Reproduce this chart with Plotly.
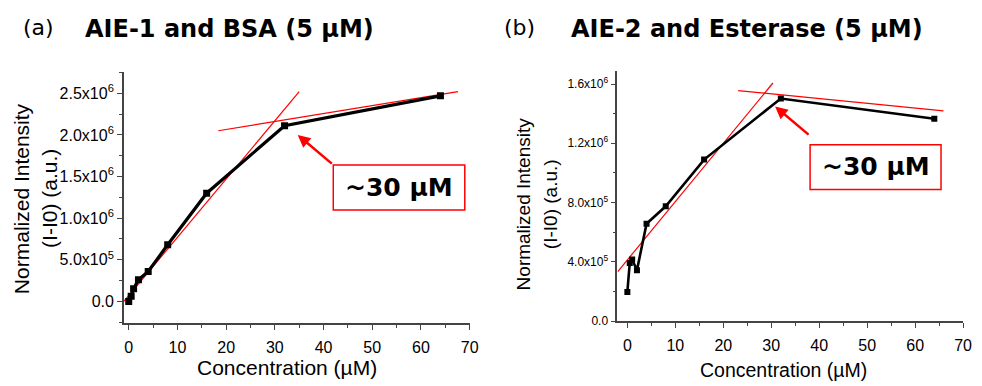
import plotly.graph_objects as go

# ---- data ----
conc = [0, 0.5, 1, 2, 4, 8, 16, 32, 64]
bsa_intensity = [0.0, 6.3e4, 1.53e5, 2.6e5, 3.6e5, 6.8e5, 1.30e6, 2.11e6, 2.47e6]
est_intensity = [1.97e5, 3.92e5, 4.16e5, 3.43e5, 6.57e5, 7.75e5, 1.09e6, 1.502e6, 1.366e6]

fit_a_steep_x = [-1.0, 35.0]
fit_a_steep_y = [0.0, 2.52e6]
fit_a_flat_x = [18.4, 67.6]
fit_a_flat_y = [2.05e6, 2.52e6]

fit_b_steep_x = [-2.0, 30.35]
fit_b_steep_y = [3.34e5, 1.607e6]
fit_b_flat_x = [23.1, 65.9]
fit_b_flat_y = [1.556e6, 1.419e6]

a_ytick_vals = [0, 5e5, 1e6, 1.5e6, 2e6, 2.5e6]
a_ytick_text = ["0.0", "5.0x10<sup>5</sup>", "1.0x10<sup>6</sup>", "1.5x10<sup>6</sup>",
                "2.0x10<sup>6</sup>", "2.5x10<sup>6</sup>"]
b_ytick_vals = [0, 4e5, 8e5, 1.2e6, 1.6e6]
b_ytick_text = ["0.0", "4.0x10<sup>5</sup>", "8.0x10<sup>5</sup>", "1.2x10<sup>6</sup>",
                "1.6x10<sup>6</sup>"]
xtick_vals = [0, 10, 20, 30, 40, 50, 60, 70]

W, H = 982, 386
TICKF = "Liberation Sans, Arial, sans-serif"
TITLEF = "DejaVu Sans, sans-serif"

fig = go.Figure()

# panel a
fig.add_trace(go.Scatter(x=fit_a_steep_x, y=fit_a_steep_y, mode="lines",
                         line=dict(color="red", width=1.2), xaxis="x", yaxis="y"))
fig.add_trace(go.Scatter(x=fit_a_flat_x, y=fit_a_flat_y, mode="lines",
                         line=dict(color="red", width=1.2), xaxis="x", yaxis="y"))
fig.add_trace(go.Scatter(x=conc, y=bsa_intensity, mode="lines+markers",
                         line=dict(color="black", width=3.2),
                         marker=dict(symbol="square", size=7, color="black"),
                         xaxis="x", yaxis="y"))
# panel b
fig.add_trace(go.Scatter(x=fit_b_steep_x, y=fit_b_steep_y, mode="lines",
                         line=dict(color="red", width=1.2), xaxis="x2", yaxis="y2"))
fig.add_trace(go.Scatter(x=fit_b_flat_x, y=fit_b_flat_y, mode="lines",
                         line=dict(color="red", width=1.2), xaxis="x2", yaxis="y2"))
fig.add_trace(go.Scatter(x=conc, y=est_intensity, mode="lines+markers",
                         line=dict(color="black", width=2.6),
                         marker=dict(symbol="square", size=6, color="black"),
                         xaxis="x2", yaxis="y2"))

axis_common = dict(showline=True, linecolor="#444", linewidth=1.5, ticks="outside",
                   tickcolor="#444", ticklen=5, tickwidth=1.2, showgrid=False,
                   zeroline=False, mirror=False)

minor_x = dict(dtick=5, ticks="outside", ticklen=3, tickcolor="#444", showgrid=False)

fig.update_layout(
    width=W, height=H, margin=dict(l=0, r=0, t=0, b=0),
    paper_bgcolor="white", plot_bgcolor="white", showlegend=False,
    xaxis=dict(domain=[125 / W, 474 / W], range=[-1.0, 70], tickvals=xtick_vals,
               tickfont=dict(family=TICKF, size=16, color="black"), anchor="y",
               ticklabelstandoff=4, minor=minor_x, **axis_common),
    yaxis=dict(domain=[(H - 329) / H, (H - 73) / H], range=[-2.6e5, 2.76e6],
               tickvals=a_ytick_vals, ticktext=a_ytick_text,
               tickfont=dict(family=TICKF, size=16, color="black"), anchor="x",
               minor=dict(dtick=2.5e5, tick0=0, ticks="outside", ticklen=3, tickcolor="#444"),
               **axis_common),
    xaxis2=dict(domain=[623 / W, 972 / W], range=[-2.1, 70], tickvals=xtick_vals,
                tickfont=dict(family=TICKF, size=16, color="black"), anchor="y2",
                ticklabelstandoff=4, minor=minor_x, **axis_common),
    yaxis2=dict(domain=[(H - 327) / H, (H - 72) / H], range=[0, 1.69e6],
                tickvals=b_ytick_vals, ticktext=b_ytick_text,
                tickfont=dict(family=TICKF, size=12, color="black"), anchor="x2",
                minor=dict(dtick=2e5, tick0=0, ticks="outside", ticklen=3, tickcolor="#444"),
                **axis_common),
)

ann = []
def ptext(x, y, text, size, family=TICKF, angle=0, xanchor="center", bold=False):
    ann.append(dict(x=x / W, y=1 - y / H, xref="paper", yref="paper", text=text,
                    showarrow=False, textangle=angle, xanchor=xanchor, yanchor="middle",
                    font=dict(family=family, size=size, color="black",
                              weight="bold" if bold else "normal")))

# titles
ptext(21, 28, "(a)", 22, TITLEF, xanchor="left")
ptext(84, 30, "AIE-1 and BSA (5 µM)", 24, TITLEF, xanchor="left", bold=True)
ptext(507, 28, "(b)", 22, TITLEF, xanchor="left")
ptext(574, 30, "AIE-2 and Esterase (5 µM)", 24, TITLEF, xanchor="left", bold=True)

# axis titles
ptext(290, 374, "Concentration (µM)", 21)
ptext(791, 377, "Concentration (µM)", 19.5)
ptext(22, 202, "Normalized Intensity", 21, angle=-90)
ptext(50, 202, "(I-I0) (a.u.)", 21, angle=-90)
ptext(528, 208, "Normalized Intensity", 19, angle=-90)
ptext(555, 208, "(I-I0) (a.u.)", 19, angle=-90)

# arrows
ann.append(dict(x=34.7, y=2.0e6, ax=42.0, ay=1.64e6, xref="x", yref="y", axref="x", ayref="y",
                showarrow=True, arrowhead=2, arrowsize=1, arrowwidth=2.5, arrowcolor="red", text=""))
ann.append(dict(x=30.8, y=1.449e6, ax=38.1, ay=1.25e6, xref="x2", yref="y2", axref="x2", ayref="y2",
                showarrow=True, arrowhead=2, arrowsize=1, arrowwidth=2.5, arrowcolor="red", text=""))

# boxed labels
fig.add_shape(type="rect", x0=42.0, x1=69.0, y0=1.097e6, y1=1.64e6, xref="x", yref="y",
              line=dict(color="red", width=1.5), fillcolor="white")
fig.add_shape(type="rect", x0=38.1, x1=65.4, y0=0.888e6, y1=1.19e6, xref="x2", yref="y2",
              line=dict(color="red", width=1.5), fillcolor="white")
ann.append(dict(x=55.5, y=1.37e6, xref="x", yref="y", text="~30 µM", showarrow=False,
                font=dict(family=TITLEF, size=25, color="black", weight="bold")))
ann.append(dict(x=51.75, y=1.04e6, xref="x2", yref="y2", text="~30 µM", showarrow=False,
                font=dict(family=TITLEF, size=25, color="black", weight="bold")))

fig.update_layout(annotations=ann)
fig.write_html("out.html", config={"displayModeBar": False},
               post_script="document.body.style.margin='0';document.body.style.overflow='hidden';")
